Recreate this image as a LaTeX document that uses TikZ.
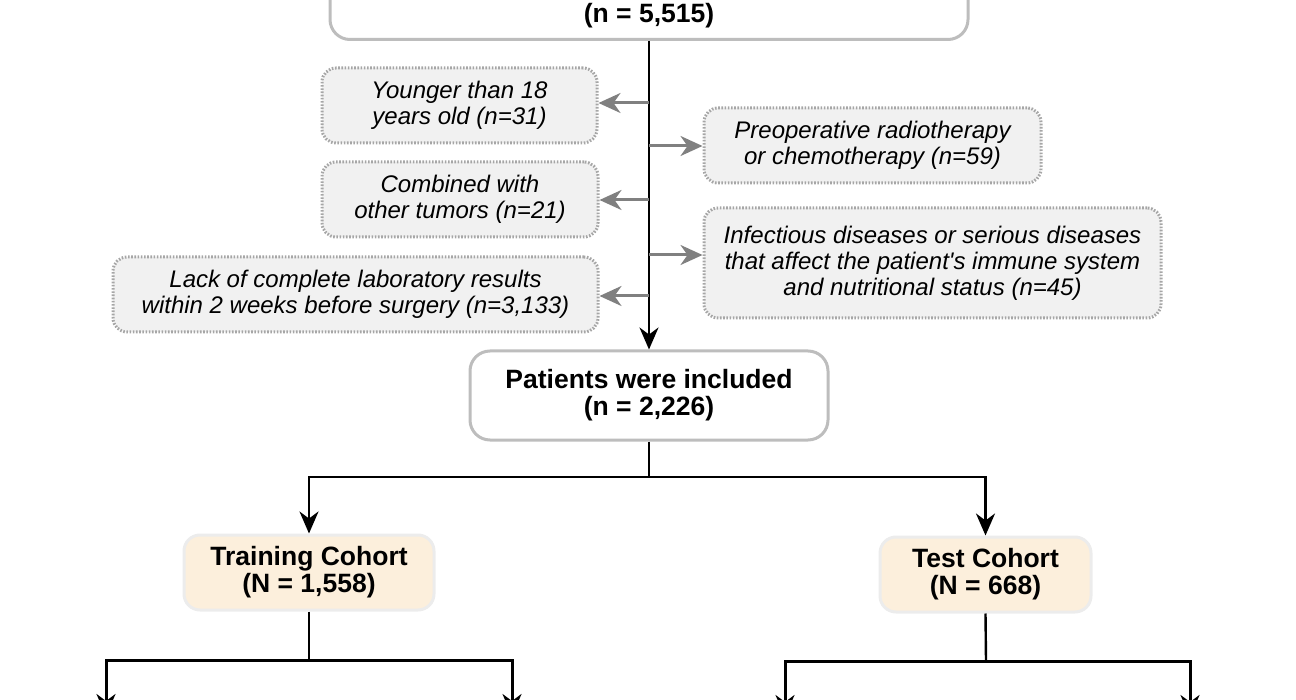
\documentclass[tikz,border=0pt]{standalone}
\usepackage{fontspec}
\setmainfont{Liberation Sans}
\usetikzlibrary{arrows.meta}
\definecolor{boxline}{HTML}{BDBDBD}
\definecolor{exline}{HTML}{A6A6A6}
\definecolor{exfill}{HTML}{F1F1F1}
\definecolor{arrowgray}{HTML}{808080}
\definecolor{cohfill}{HTML}{FCEFDC}
\definecolor{cohline}{HTML}{ECECEC}
\begin{document}
\begin{tikzpicture}[x=1pt,y=-1pt,
  mainbox/.style={draw=boxline, line width=3pt, fill=white, rounded corners=20pt, align=center,
    font=\bfseries\fontsize{26.5}{27}\selectfont, inner sep=0pt},
  exbox/.style={draw=exline, line width=3pt, dash pattern=on 1.6pt off 1.6pt, fill=exfill,
    rounded corners=14pt, align=center, font=\itshape\fontsize{24}{26}\selectfont, inner sep=0pt},
  cohort/.style={draw=cohline, line width=3pt, fill=cohfill, rounded corners=16pt, align=center,
    font=\bfseries\fontsize{26.5}{27}\selectfont, inner sep=0pt},
  blackline/.style={line width=2.4pt, draw=black},
  blackarr/.style={blackline, -{Stealth[length=22pt,width=19pt,inset=7pt]}},
  grayarr/.style={line width=3pt, draw=arrowgray, -{Stealth[length=22pt,width=20pt,inset=7pt]}},
]
\useasboundingbox (0,0) rectangle (1296,700);
\clip (0,0) rectangle (1296,700);
% top box (cut off by the picture's edge)
\node[mainbox, minimum width=638pt, minimum height=100pt, anchor=south] (top) at (649,41) {};
\node[font=\bfseries\fontsize{26.5}{27}\selectfont, inner sep=0pt] (topn) at (649,16) {(n = 5,515)};
% exclusion boxes
\node[exbox, minimum width=275pt, minimum height=75pt] (younger) at (459.5,105.5) {Younger than 18\\years old (n=31)};
\node[exbox, minimum width=337pt, minimum height=75pt] (preop) at (872.5,145.5) {Preoperative radiotherapy\\or chemotherapy (n=59)};
\node[exbox, minimum width=276pt, minimum height=75pt] (combined) at (460,199.5) {Combined with\\other tumors (n=21)};
\node[exbox, minimum width=457pt, minimum height=110pt] (infect) at (932.5,263) {Infectious diseases or serious diseases\\that affect the patient\textquotesingle s immune system\\and nutritional status (n=45)};
\node[exbox, minimum width=485pt, minimum height=75pt] (lack) at (355.5,294.5) {Lack of complete laboratory results\\within 2 weeks before surgery (n=3,133)};
% included
\node[mainbox, minimum width=358pt, minimum height=89pt] (incl) at (649,395.5) {Patients were included\\(n = 2,226)};
% cohorts
\node[cohort, minimum width=250pt, minimum height=75pt] (train) at (309,572.5) {Training Cohort\\(N = 1,558)};
\node[cohort, minimum width=211pt, minimum height=75pt] (test) at (985.5,574.5) {Test Cohort\\(N = 668)};
% spine
\draw[blackarr] (top.south) -- (incl.north);
\coordinate (s1) at (649,103);
\coordinate (s2) at (649,146);
\coordinate (s3) at (649,200);
\coordinate (s4) at (649,255);
\coordinate (s5) at (649,296);
\draw[grayarr] (s1) -- (s1 -| younger.east);
\draw[grayarr] (s2) -- (s2 -| preop.west);
\draw[grayarr] (s3) -- (s3 -| combined.east);
\draw[grayarr] (s4) -- (s4 -| infect.west);
\draw[grayarr] (s5) -- (s5 -| lack.east);
% split to cohorts
\coordinate (b1) at (649,477);
\draw[blackline] (incl.south) -- (b1);
\draw[blackarr] (b1) -| (train.north);
\draw[blackarr] (b1) -| (test.north);
% further splits (cut off)
\coordinate (t1) at (309,660);
\coordinate (tl) at (106,716);
\coordinate (tr) at (512,716);
\draw[blackline] (train.south) -- (t1);
\draw[blackarr, line width=3pt] (t1) -| (tl);
\draw[blackarr, line width=3pt] (t1) -| (tr);
\coordinate (u1) at (986,661);
\coordinate (ul) at (785,717);
\coordinate (ur) at (1190,717);
\draw[blackline] (test.south) -- (u1);
\draw[blackarr, line width=3pt] (u1) -| (ul);
\draw[blackarr, line width=3pt] (u1) -| (ur);
\end{tikzpicture}
\end{document}
